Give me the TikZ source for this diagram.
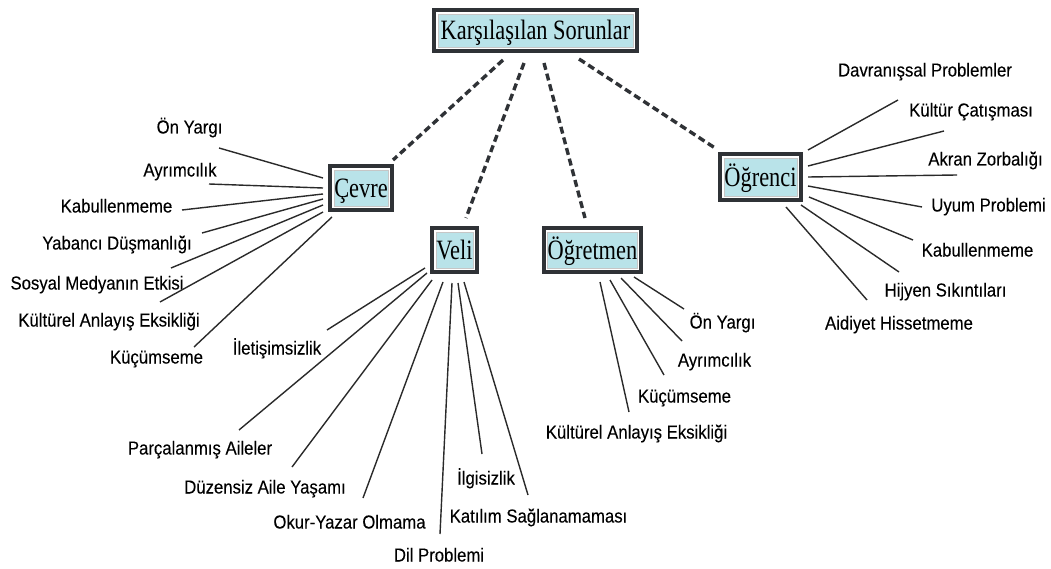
\documentclass[tikz,border=0pt]{standalone}
\usepackage{fontspec}
\newfontfamily\serf[FakeStretch=0.8]{Liberation Serif}
\newfontfamily\sanf[FakeStretch=0.89,FakeBold=0.12]{Liberation Sans}
\definecolor{lb}{HTML}{B9E3E9}
\definecolor{dk}{HTML}{2F3236}
\definecolor{ln}{HTML}{2A2A2A}
\begin{document}
\begin{tikzpicture}[x=1pt,y=-1pt,
  box/.style={fill=lb,draw=gray!45,line width=0.6pt,inner sep=0pt,
    font=\serf\fontsize{28}{28}\selectfont,text height=19,text depth=0,align=center},
  lab/.style={inner sep=0pt,font=\sanf\fontsize{18.8}{18.8}\selectfont,text height=13,text depth=0},
  conn/.style={draw=ln,line width=1.4pt},
  dconn/.style={draw=dk,line width=3.4pt,dash pattern=on 7pt off 4pt}]
\useasboundingbox (0,0) rectangle (1051,569);
% boxes
\node[box,minimum width=195,minimum height=33] (top) at (535.5,30.5) {Karşılaşılan Sorunlar};
\node[box,minimum width=54,minimum height=36] (cevre) at (361,188) {Çevre};
\node[box,minimum width=37,minimum height=36] (veli) at (454.5,250) {Veli};
\node[box,minimum width=89,minimum height=36] (ogretmen) at (592.5,250) {Öğretmen};
\node[box,minimum width=73,minimum height=38] (ogrenci) at (760.5,177) {Öğrenci};
\foreach \n in {top,cevre,veli,ogretmen,ogrenci}
  \draw[dk,line width=4pt] ([shift={(-3.6,-3.6)}]\n.north west) rectangle ([shift={(3.6,3.6)}]\n.south east);
% dashed connectors
\coordinate (d1) at (503,60); \coordinate (d2) at (524,63);
\coordinate (d3) at (544,63); \coordinate (d4) at (579,59);
\coordinate (e1) at (393,160); \coordinate (e2) at (466,218);
\coordinate (e3) at (585,218); \coordinate (e4) at (715,148);
\draw[dconn] (d1) -- (e1);
\draw[dconn] (d2) -- (e2);
\draw[dconn] (d3) -- (e3);
\draw[dconn] (d4) -- (e4);
% labels - Cevre
\node[lab] (c1) at (189.5,127) {Ön Yargı};
\node[lab] (c2) at (180,170) {Ayrımcılık};
\node[lab] (c3) at (116.5,206) {Kabullenmeme};
\node[lab] (c4) at (117,243) {Yabancı Düşmanlığı};
\node[lab] (c5) at (97,283) {Sosyal Medyanın Etkisi};
\node[lab] (c6) at (109,320) {Kültürel Anlayış Eksikliği};
\node[lab] (c7) at (156.5,357) {Küçümseme};
% Veli
\node[lab] (v1) at (277,348) {İletişimsizlik};
\node[lab] (v2) at (200,448) {Parçalanmış Aileler};
\node[lab] (v3) at (265,487) {Düzensiz Aile Yaşamı};
\node[lab] (v4) at (349.5,522) {Okur-Yazar Olmama};
\node[lab] (v5) at (439,555) {Dil Problemi};
\node[lab] (v6) at (486,478) {İlgisizlik};
\node[lab] (v7) at (538.5,516) {Katılım Sağlanamaması};
% Ogretmen
\node[lab] (t1) at (722.5,322) {Ön Yargı};
\node[lab] (t2) at (714.5,360) {Ayrımcılık};
\node[lab] (t3) at (684.5,396) {Küçümseme};
\node[lab] (t4) at (636.5,432) {Kültürel Anlayış Eksikliği};
% Ogrenci
\node[lab] (o1) at (925,70) {Davranışsal Problemler};
\node[lab] (o2) at (971,110) {Kültür Çatışması};
\node[lab] (o3) at (985.5,159) {Akran Zorbalığı};
\node[lab] (o4) at (988.5,205) {Uyum Problemi};
\node[lab] (o5) at (977.5,250) {Kabullenmeme};
\node[lab] (o6) at (945.5,290) {Hijyen Sıkıntıları};
\node[lab] (o7) at (899,323) {Aidiyet Hissetmeme};
% connector end points
\coordinate (cAs) at (323,178); \coordinate (cAe) at (219,148);
\coordinate (cBs) at (323,188); \coordinate (cBe) at (209,184);
\coordinate (cCs) at (323,194); \coordinate (cCe) at (182,210);
\coordinate (cDs) at (323,199); \coordinate (cDe) at (202,233);
\coordinate (cEs) at (323,205); \coordinate (cEe) at (171,268);
\coordinate (cFs) at (323,212); \coordinate (cFe) at (160,302);
\coordinate (cGs) at (332,217); \coordinate (cGe) at (194,347);
\coordinate (vAs) at (425,268); \coordinate (vAe) at (327,330);
\coordinate (vBs) at (427,273); \coordinate (vBe) at (239,430);
\coordinate (vCs) at (432,280); \coordinate (vCe) at (292,467);
\coordinate (vDs) at (443,282); \coordinate (vDe) at (363,498);
\coordinate (vEs) at (452,283); \coordinate (vEe) at (440,534);
\coordinate (vFs) at (458,283); \coordinate (vFe) at (482,454);
\coordinate (vGs) at (464,282); \coordinate (vGe) at (528,495);
\coordinate (tAs) at (634,277); \coordinate (tAe) at (684,309);
\coordinate (tBs) at (621,278); \coordinate (tBe) at (682,341);
\coordinate (tCs) at (610,280); \coordinate (tCe) at (664,375);
\coordinate (tDs) at (600,282); \coordinate (tDe) at (629,412);
\coordinate (oAs) at (808,150); \coordinate (oAe) at (898,100);
\coordinate (oBs) at (808,166); \coordinate (oBe) at (944,131);
\coordinate (oCs) at (808,177); \coordinate (oCe) at (957,175);
\coordinate (oDs) at (808,186); \coordinate (oDe) at (922,207);
\coordinate (oEs) at (809,197); \coordinate (oEe) at (913,240);
\coordinate (oFs) at (801,205); \coordinate (oFe) at (899,272);
\coordinate (oGs) at (786,207); \coordinate (oGe) at (867,300);
\foreach \n in {cA,cB,cC,cD,cE,cF,cG,vA,vB,vC,vD,vE,vF,vG,tA,tB,tC,tD,oA,oB,oC,oD,oE,oF,oG}
  \draw[conn] (\n s) -- (\n e);
\end{tikzpicture}
\end{document}
